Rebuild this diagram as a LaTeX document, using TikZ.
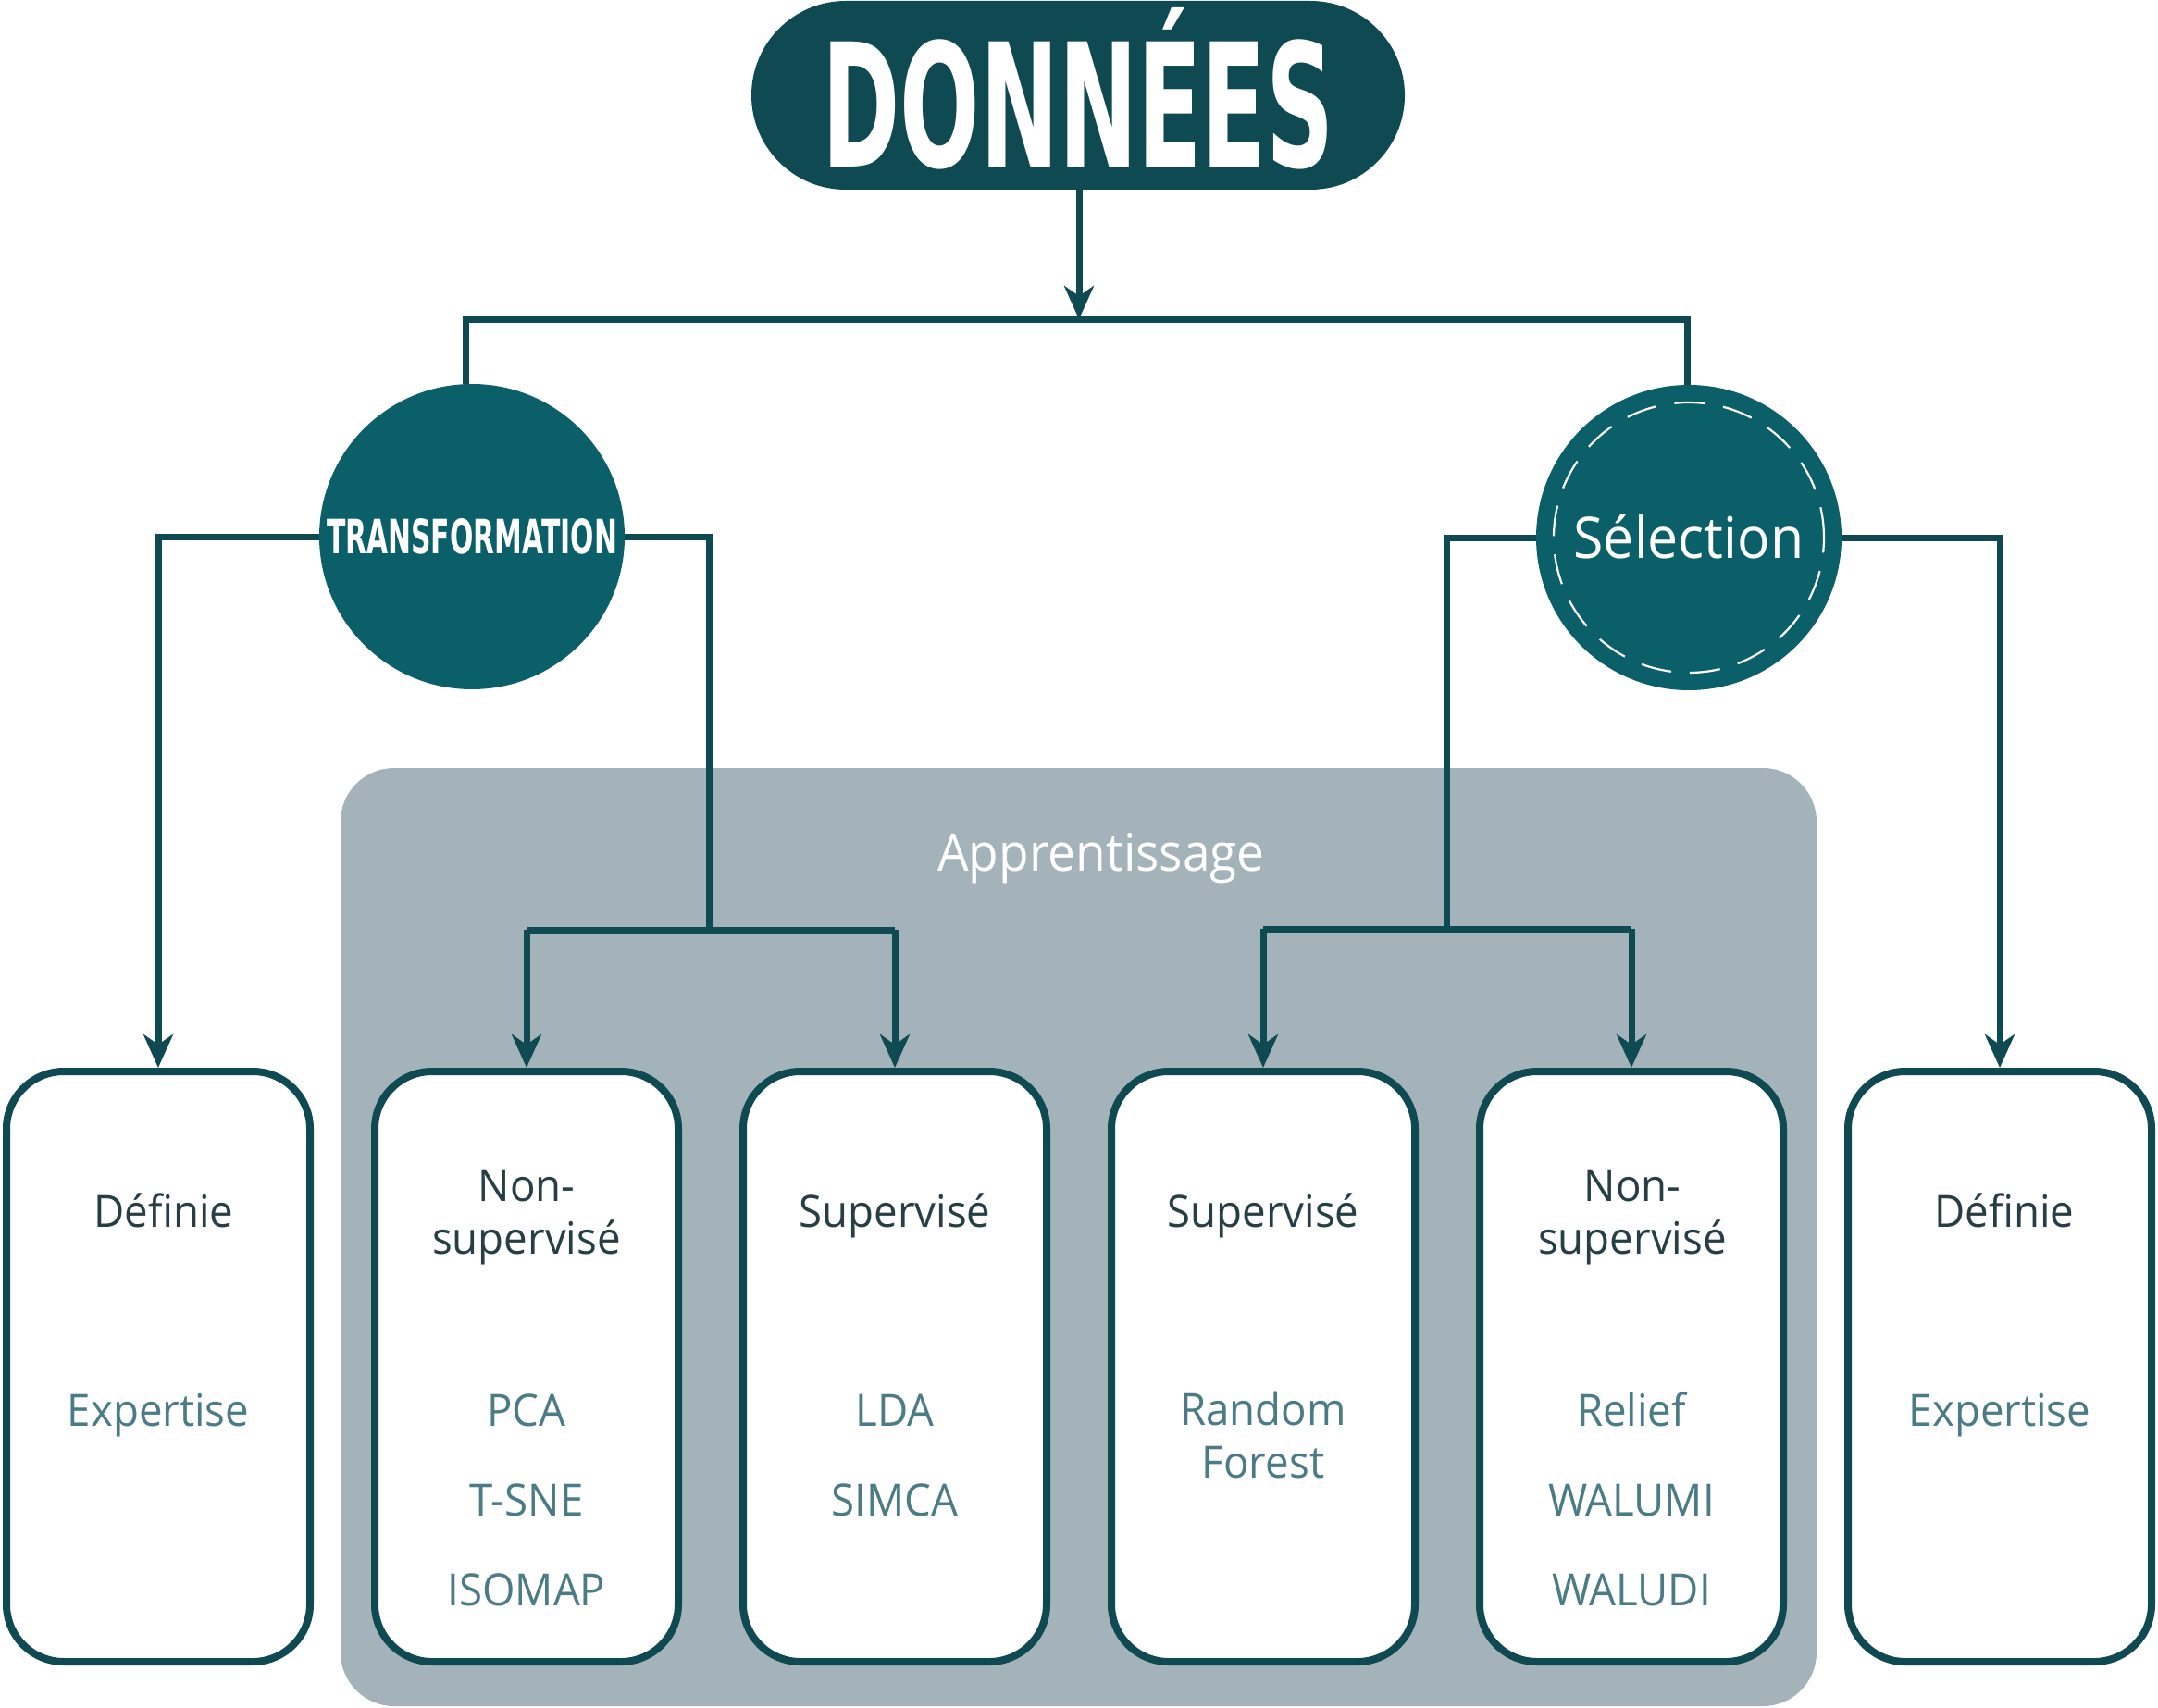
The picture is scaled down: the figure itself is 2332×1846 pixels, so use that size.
\documentclass[tikz,border=0pt]{standalone}
\usepackage{fontspec}
\usepackage{graphicx}
\setmainfont{Open Sans}[FakeStretch=0.95]
\newfontfamily\headfont{DejaVu Sans}
\usetikzlibrary{arrows.meta}
\definecolor{dark}{HTML}{0F4A52}
\definecolor{circfill}{HTML}{0A5F68}
\definecolor{panelgrey}{HTML}{A3B3B9}
\definecolor{titletxt}{HTML}{263E44}
\definecolor{itemtxt}{HTML}{4B7B84}
\begin{document}
\begin{tikzpicture}[x=1pt,y=-1pt,
  pill/.style={rectangle, rounded corners=102pt, fill=dark, minimum width=706pt, minimum height=204pt, inner sep=0pt},
  circnode/.style={circle, fill=circfill, minimum size=330pt, inner sep=0pt, text=white},
  panelbox/.style={rectangle, rounded corners=58pt, fill=panelgrey, minimum width=1595pt, minimum height=1014pt, inner sep=0pt},
  methbox/.style={rectangle, rounded corners=62pt, draw=dark, line width=8pt, fill=white, minimum width=328pt, minimum height=638pt, inner sep=0pt},
  conn/.style={draw=dark, line width=7pt, line join=miter},
  arr/.style={-{Stealth[length=36pt, width=32pt, inset=11pt]}},
  ttl/.style={text=titletxt, font=\fontsize{48}{57}\selectfont, align=center, inner sep=0pt},
  itm/.style={text=itemtxt, font=\fontsize{48}{57}\selectfont, align=center, inner sep=0pt, anchor=base},
]
\useasboundingbox (0,0) rectangle (2332,1846);

% panel
\node[panelbox] (panel) at (1165.5,1337) {};
\node[text=white, font=\fontsize{56}{60}\selectfont, anchor=base, inner sep=0pt] (apprlbl) at (1190,941) {Apprentissage};

% boxes
\node[methbox] (b1) at (171,1477) {};
\node[methbox] (b2) at (569,1477) {};
\node[methbox] (b3) at (967,1477) {};
\node[methbox] (b4) at (1365,1477) {};
\node[methbox] (b5) at (1763,1477) {};
\node[methbox] (b6) at (2161,1477) {};

% top nodes
\node[pill] (data) at (1165,103) {};
\node[anchor=base, inner sep=0pt, text=white] (datalbl) at (1165,181) {\resizebox{553pt}{172pt}{\headfont\bfseries DONNÉES}};
\node[circnode] (tr) at (510,580) {\resizebox{314pt}{38pt}{\headfont\bfseries TRANSFORMATION}};
\node[circnode] (sel) at (1825,581) {};
\draw[white, line width=2.2pt, dash pattern=on 33pt off 20pt] (sel.center) circle[radius=146pt];
\node[anchor=base, inner sep=0pt, text=white, font=\fontsize{62}{66}\selectfont] (sellbl) at (1825,603) {Sélection};

% connectors
\coordinate (j0) at (1166,345);
\coordinate (jl) at (503,345);
\coordinate (jr) at (1823,345);
\draw[conn, arr] (data.south -| j0) -- (j0);
\draw[conn] (tr.north -| jl) -- (jl) -- (jr) -- (sel.north -| jr);

\draw[conn, arr] (tr.west) -- (b1.north |- tr.west) -- (b1.north);
\coordinate (tk) at (766,1005);
\draw[conn] (tr.east) -- (tr.east -| tk) -- (tk);
\draw[conn] (b2.north |- tk) -- (b3.north |- tk);
\draw[conn, arr] (b2.north |- tk) -- (b2.north);
\draw[conn, arr] (b3.north |- tk) -- (b3.north);

\coordinate (sk) at (1563,1004);
\draw[conn] (sel.west) -- (sel.west -| sk) -- (sk);
\draw[conn] (b4.north |- sk) -- (b5.north |- sk);
\draw[conn, arr] (b4.north |- sk) -- (b4.north);
\draw[conn, arr] (b5.north |- sk) -- (b5.north);
\draw[conn, arr] (sel.east) -- (b6.north |- sel.east) -- (b6.north);

% titles
\node[ttl, anchor=base] (b1t) at (177,1326) {Définie};
\node[ttl] (b2t) at (569,1316) {Non-\\supervisé};
\node[ttl, anchor=base] (b3t) at (967,1326) {Supervisé};
\node[ttl, anchor=base] (b4t) at (1365,1326) {Supervisé};
\node[ttl] (b5t) at (1764,1316) {Non-\\supervisé};
\node[ttl, anchor=base] (b6t) at (2166,1326) {Définie};

% items
\node[itm] (b1a) at (171,1541) {Expertise};
\node[itm] (b2a) at (569,1541) {PCA};
\node[itm] (b2b) at (569,1638) {T-SNE};
\node[itm] (b2c) at (569,1735) {ISOMAP};
\node[itm] (b3a) at (967,1541) {LDA};
\node[itm] (b3b) at (967,1638) {SIMCA};
\node[itm, anchor=center] (b4a) at (1365,1551) {Random\\Forest};
\node[itm] (b5a) at (1763,1541) {Relief};
\node[itm] (b5b) at (1763,1638) {WALUMI};
\node[itm] (b5c) at (1763,1735) {WALUDI};
\node[itm] (b6a) at (2161,1541) {Expertise};
\end{tikzpicture}
\end{document}
